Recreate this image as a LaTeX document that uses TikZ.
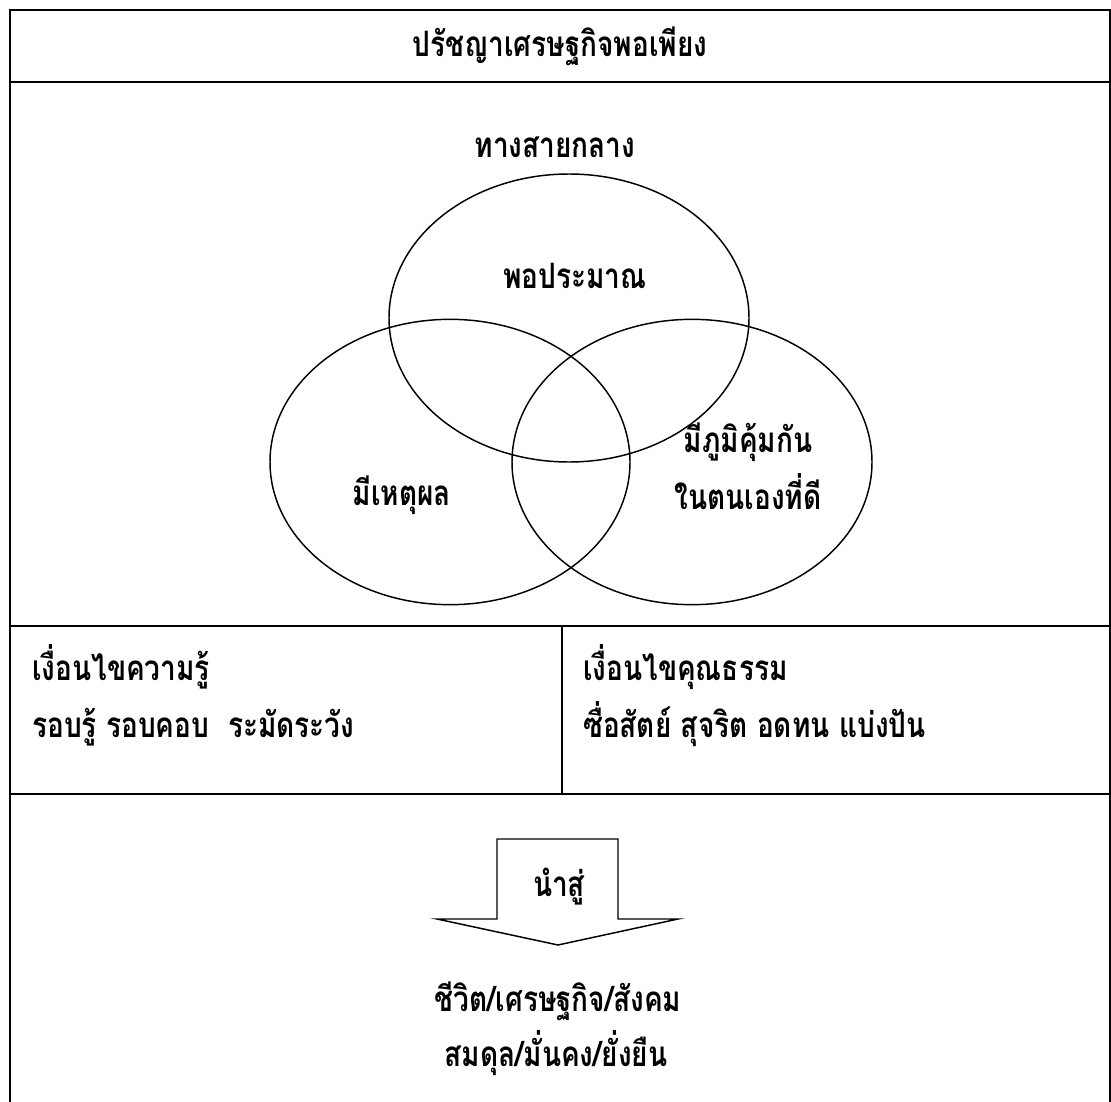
\documentclass[tikz,border=0pt]{standalone}
\usepackage{fontspec}
\newfontfamily\thaifont[Script=Thai]{Loma}
\newcommand\talltext[1]{\scalebox{1}[1.25]{#1}}
\begin{document}
\begin{tikzpicture}[x=0.75pt,y=-0.75pt,
  tbl/.style={line width=1.5pt,line cap=rect},
  venn/.style={line width=1.1pt},
  arrowbox/.style={line width=1.1pt,line join=miter},
  txt/.style={font=\thaifont\bfseries\fontsize{21}{25}\selectfont,inner sep=0pt,anchor=base}]
\useasboundingbox (0,0) rectangle (1111,1102);
% table
\draw[tbl] (10,1110) -- (10,10) -- (1110,10) -- (1110,1110);
\draw[tbl] (10,82) -- (1110,82);
\draw[tbl] (10,626) -- (1110,626);
\draw[tbl] (10,794) -- (1110,794);
\draw[tbl] (562,626) -- (562,794);
% venn
\draw[venn] (569,318) ellipse [x radius=135pt, y radius=108pt];
\draw[venn] (450,462) ellipse [x radius=135pt, y radius=107pt];
\draw[venn] (692,462) ellipse [x radius=135pt, y radius=107pt];
% arrow
\draw[arrowbox] (497,839) -- (618,839) -- (618,919) -- (678,919) -- (558,945) -- (437,919) -- (497,919) -- cycle;
% texts
\node[txt] (title) at (560,57) {\talltext{ปรัชญาเศรษฐกิจพอเพียง}};
\node[txt] (middle) at (555,158) {\talltext{ทางสายกลาง}};
\node[txt] (moderate) at (575,288) {\talltext{พอประมาณ}};
\node[txt] (reason) at (402,505) {\talltext{มีเหตุผล}};
\node[txt] (immune1) at (748,452) {\talltext{มีภูมิคุ้มกัน}};
\node[txt] (immune2) at (748,509) {\talltext{ในตนเองที่ดี}};
\node[txt,anchor=base west] (know1) at (32,680) {\talltext{เงื่อนไขความรู้}};
\node[txt,anchor=base west] (know2) at (32,737) {\talltext{รอบรู้ รอบคอบ \ ระมัดระวัง}};
\node[txt,anchor=base west] (moral1) at (583,680) {\talltext{เงื่อนไขคุณธรรม}};
\node[txt,anchor=base west] (moral2) at (583,737) {\talltext{ซื่อสัตย์ สุจริต อดทน แบ่งปัน}};
\node[txt] (lead) at (559,896) {\talltext{นำสู่}};
\node[txt] (life) at (558,1011) {\talltext{ชีวิต/เศรษฐกิจ/สังคม}};
\node[txt] (balance) at (556,1066) {\talltext{สมดุล/มั่นคง/ยั่งยืน}};
\end{tikzpicture}
\end{document}
